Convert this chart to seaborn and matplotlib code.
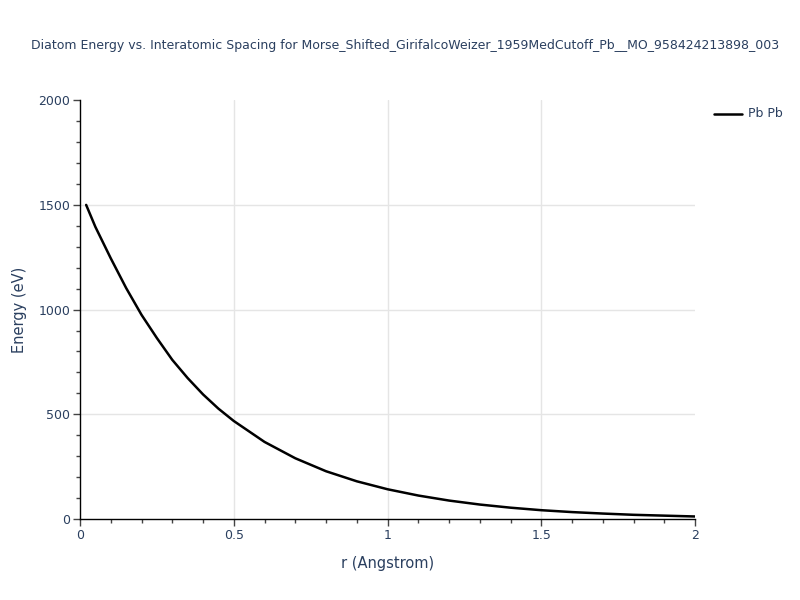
import numpy as np
import pandas as pd
import matplotlib
matplotlib.use("Agg")
import matplotlib.pyplot as plt
import seaborn as sns
from matplotlib.ticker import MultipleLocator

# Values
r_vals = [0.02, 0.05, 0.1, 0.15, 0.2, 0.25, 0.3, 0.35, 0.4, 0.45, 0.5,
          0.6, 0.7, 0.8, 0.9, 1.0, 1.1, 1.2, 1.3, 1.4, 1.5,
          1.6, 1.7, 1.8, 1.9, 2.0]
energy = [1500, 1395, 1245, 1103, 975, 864, 760, 673, 595, 527, 468,
          368, 290, 228, 180, 142, 112, 88, 69, 54, 42,
          33, 26, 20, 16, 12]
series = ["Pb Pb"] * len(r_vals)

x_ticks = [0, 0.5, 1, 1.5, 2]
x_labels = ["0", "0.5", "1", "1.5", "2"]
y_ticks = [0, 500, 1000, 1500, 2000]

df = pd.DataFrame({"r": r_vals, "E": energy, "pair": series})

sns.set_style("white")
plt.rcParams['font.family'] = ['DejaVu Sans']

text_col = "#2a3f5f"
fig = plt.figure(figsize=(8, 6), dpi=100)
ax = fig.add_axes([0.1, 0.135, 0.769, 0.698])

# interior grid lines only (as in the reference)
for xv in x_ticks[1:-1]:
    ax.axvline(xv, color="#e5e5e5", linewidth=1, zorder=0)
for yv in y_ticks[1:-1]:
    ax.axhline(yv, color="#e5e5e5", linewidth=1, zorder=0)

sns.lineplot(data=df, x="r", y="E", hue="pair", palette=["black"],
             linewidth=1.8, ax=ax, legend=False)

ax.set_xlim(0, 2)
ax.set_ylim(0, 2000)
ax.set_xticks(x_ticks)
ax.set_xticklabels(x_labels)
ax.set_yticks(y_ticks)
ax.xaxis.set_minor_locator(MultipleLocator(0.1))
ax.yaxis.set_minor_locator(MultipleLocator(100))
ax.grid(False)

for s in ["top", "right"]:
    ax.spines[s].set_visible(False)
for s in ["left", "bottom"]:
    ax.spines[s].set_color("black")
    ax.spines[s].set_linewidth(1)

ax.tick_params(which="major", direction="out", length=5, width=1,
               color="#444444", labelsize=9, labelcolor=text_col, pad=2)
ax.tick_params(which="minor", direction="out", length=3, width=1,
               color="#444444")
ax.tick_params(axis="x", which="both", bottom=True)
ax.tick_params(axis="y", which="both", left=True)

ax.set_xlabel("r (Angstrom)", fontsize=10.5, color=text_col, labelpad=10)
ax.set_ylabel("Energy (eV)", fontsize=10.5, color=text_col, labelpad=8)

fig.text(0.506, 0.925,
         "Diatom Energy vs. Interatomic Spacing for Morse_Shifted_GirifalcoWeizer_1959MedCutoff_Pb__MO_958424213898_003",
         ha="center", va="center", fontsize=9, color=text_col)

# legend
fig.lines.append(plt.Line2D([0.892, 0.927], [0.81, 0.81], color="black",
                            linewidth=1.8, transform=fig.transFigure))
fig.text(0.935, 0.81, "Pb Pb", ha="left", va="center", fontsize=9,
         color=text_col)

fig.savefig("out.png", dpi=100)
